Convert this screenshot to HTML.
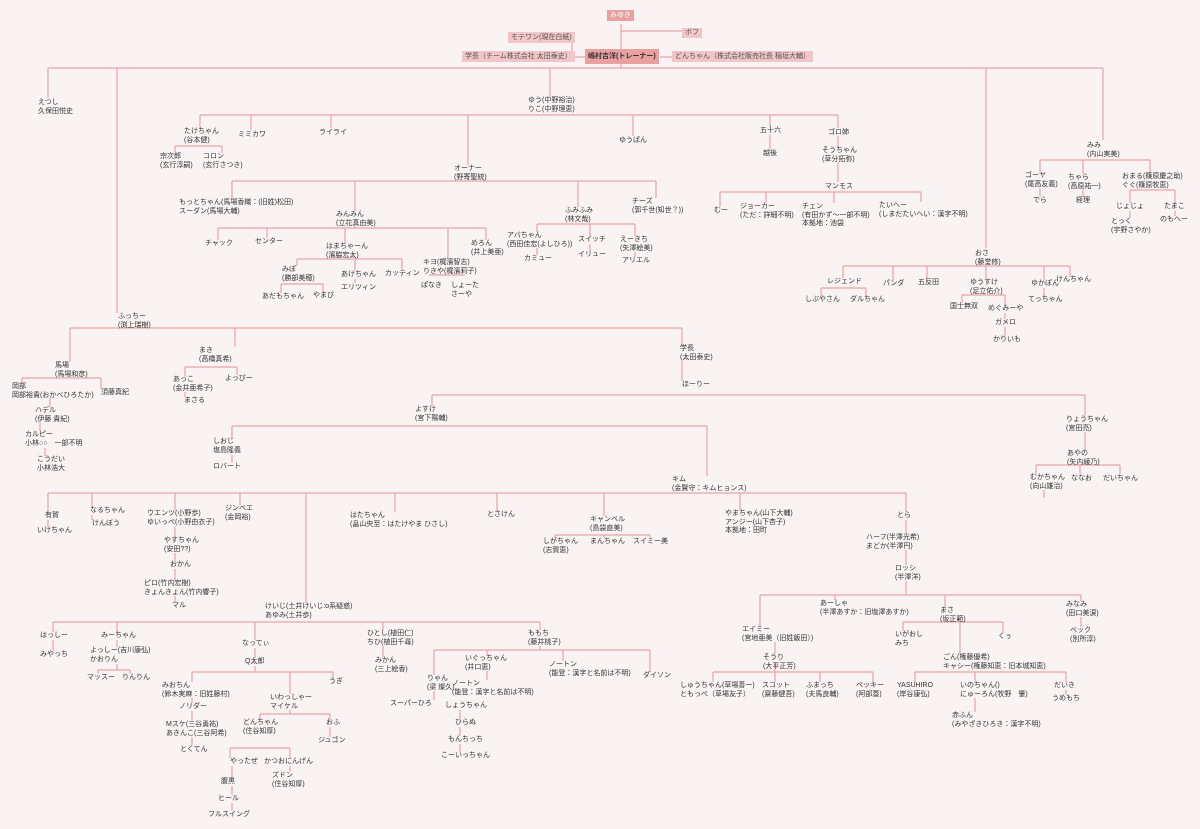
<!DOCTYPE html><html><head><meta charset="utf-8"><style>
body{margin:0;width:1200px;height:829px;background:#f9f3f4;position:relative;overflow:hidden;font-family:"Liberation Sans","Noto Sans CJK JP",sans-serif;}
.t{position:absolute;font-size:7px;line-height:8.5px;color:#333;white-space:nowrap;}
.b{position:absolute;font-size:7px;line-height:11px;color:#555;background:#f2c6c6;padding:0 3px;white-space:nowrap;}
svg{position:absolute;left:0;top:0}
</style></head><body>
<svg width="1200" height="829"><g stroke="#eaa3a3" stroke-width="1.2" fill="none">
<path d="M621 24V49M621 31H682M567 37H572V57M566 57H585M660 57H672M621 64V68M48 68H1103M48 68V98M117 68V313M550 68V97M986 68V248M1103 68V140"/>
<path d="M200 115H838M200 115V128M251 115V130M331 115V128M468 115V165M633 115V136M770 115V127M838 115V128M770 135V149M838 136V147M838 162V182"/>
<path d="M175 146H222M175 146V153M222 146V153"/>
<path d="M232 181H656M232 181V199M355 181V211M578 181V207M656 181V198M468 178V181"/>
<path d="M218 228H486M218 228V240M267 228V238M345 228V243M448 228V259M486 228V240M355 226V228"/>
<path d="M297 259H402M297 259V266M355 259V271M355 279V283M402 259V270M281 284H323M281 284V293M323 284V292M429 275H465"/>
<path d="M537 224H635M537 224V232M537 248V255M590 224V236M590 244V251M635 224V236M635 252V257"/>
<path d="M720 192H921M720 192V207M766 192V203M834 192V203M921 192V202"/>
<path d="M1040 160H1150M1040 160V172M1083 160V174M1150 160V173M1040 188V197M1083 188V197M1130 190H1175M1130 190V203M1130 211V218M1175 190V203M1175 211V216"/>
<path d="M843 266H1070M843 266V278M893 266V280M927 266V279M986 266V279M1044 266V280M1070 266V277M821 288H866M821 288V296M866 288V296M962 295H1005M962 295V303M1005 295V305M1005 313V319M1005 327V336M1044 288V296"/>
<path d="M70 328H682M70 328V362M235 328V347M682 328V345M682 361V381"/>
<path d="M22 378H101M22 378V383M101 378V389M50 398V407M40 423V431M45 448V456M185 367H237M185 367V376M185 392V397M237 367V375"/>
<path d="M432 395H1085M432 395V406M1085 395V416M1085 432V450M1036 465H1120M1036 465V474M1080 465V474M1120 465V474M1044 490V498"/>
<path d="M232 426H707M232 426V438M707 426V476M232 455V463"/>
<path d="M48 493H906M48 493V512M92 493V507M175 493V510M240 493V505M306 493V603M395 493V512M497 493V511M604 493V516M740 493V510M906 493V512M48 520V527M92 515V520M175 527V537M175 553V561M175 569V580M175 596V602"/>
<path d="M555 535H650M555 535V538M604 535V538M650 535V538M906 520V534M906 550V565M906 581V595"/>
<path d="M760 595H1081M760 595V626M835 595V600M945 595V607M1081 595V601M1081 617V627M775 642V654M713 672H873M713 672V682M775 672V682M820 672V682M873 672V682M775 662V672"/>
<path d="M903 622H1003M903 622V631M1003 622V633M960 622V654M915 672H1066M915 672V682M975 672V682M1066 672V682M975 698V712M1066 690V695"/>
<path d="M53 622H540M53 622V632M117 622V632M255 622V640M383 622V630M540 622V630M53 640V651M117 640V647M255 648V658M383 646V657M98 670H130M98 670V674M130 670V674M117 664V670"/>
<path d="M192 672H333M192 672V682M192 698V703M192 711V721M192 737V746M290 672V694M333 672V678M255 666V672M260 714H330M260 714V719M330 714V719M330 727V737M290 710V714M230 748H290M230 748V758M290 748V758M290 766V772M232 766V778M232 786V795M232 803V811"/>
<path d="M434 650H650M434 650V675M487 650V655M650 650V672M563 650V661M540 646V650M434 691V700M487 671V680M460 710V719M460 727V736M460 744V752"/>
</g></svg>
<div class="b" style="left:607px;top:10px;background:#e8a0a0;color:#fff;">みゆき</div>
<div class="b" style="left:682px;top:28px;line-height:10px;">ボフ</div>
<div class="b" style="left:508px;top:32px;">モテワン(現在白紙)</div>
<div class="b" style="left:462px;top:51px;">学長（チーム株式会社 太田泰史）</div>
<div class="b" style="left:585px;top:49px;line-height:15px;background:#e8a0a0;color:#333;font-weight:bold;">嶋村吉洋(トレーナー)</div>
<div class="b" style="left:672px;top:51px;">どんちゃん（株式会社販売社長 稲垣大輔）</div>

<div class="t" style="left:38px;top:99px">えつし<br>久保田悦史</div>
<div class="t" style="left:528px;top:97px">ゆう(中野裕治)<br>りこ(中野理恵)</div>
<div class="t" style="left:184px;top:128px">たけちゃん<br>(谷本健)</div>
<div class="t" style="left:238px;top:131px">ミミカワ</div>
<div class="t" style="left:319px;top:129px">ライライ</div>
<div class="t" style="left:160px;top:153px">宗次郎<br>(玄行淳嗣)</div>
<div class="t" style="left:203px;top:153px">コロン<br>(玄行さつき)</div>
<div class="t" style="left:454px;top:165px">オーナー<br>(野寄聖統)</div>
<div class="t" style="left:179px;top:199px">もっとちゃん(馬場香織：(旧姓)松田)<br>スーダン(馬場大輔)</div>
<div class="t" style="left:336px;top:211px">みんみん<br>(立花真由美)</div>
<div class="t" style="left:205px;top:240px">チャック</div>
<div class="t" style="left:255px;top:238px">センター</div>
<div class="t" style="left:326px;top:243px">はまちゃーん<br>(濱脇宏太)</div>
<div class="t" style="left:423px;top:259px">キヨ(梶濱智志)<br>りきや(梶濱莉子)</div>
<div class="t" style="left:471px;top:240px">めろん<br>(井上美亜)</div>
<div class="t" style="left:282px;top:266px">みぽ<br>(勝部美穂)</div>
<div class="t" style="left:341px;top:271px">あけちゃん</div>
<div class="t" style="left:341px;top:284px">エリツィン</div>
<div class="t" style="left:385px;top:270px">カッティン</div>
<div class="t" style="left:262px;top:293px">あだもちゃん</div>
<div class="t" style="left:313px;top:292px">やまぴ</div>
<div class="t" style="left:421px;top:282px">ぱなき</div>
<div class="t" style="left:451px;top:282px">しょーた<br>さーや</div>
<div class="t" style="left:565px;top:207px">ふみふみ<br>(林文哉)</div>
<div class="t" style="left:507px;top:232px">アバちゃん<br>(西田佳宏(よしひろ))</div>
<div class="t" style="left:524px;top:255px">カミュー</div>
<div class="t" style="left:578px;top:236px">スイッチ</div>
<div class="t" style="left:578px;top:251px">イリュー</div>
<div class="t" style="left:620px;top:236px">えーきち<br>(矢澤絵美)</div>
<div class="t" style="left:622px;top:257px">アリエル</div>
<div class="t" style="left:632px;top:198px">チーズ<br>(郭千世(知世？))</div>
<div class="t" style="left:619px;top:137px">ゆうぱん</div>
<div class="t" style="left:760px;top:127px">五十六</div>
<div class="t" style="left:763px;top:150px">越後</div>
<div class="t" style="left:828px;top:129px">ゴロ姉</div>
<div class="t" style="left:822px;top:147px">そうちゃん<br>(草分拓弥)</div>
<div class="t" style="left:825px;top:183px">マンモス</div>
<div class="t" style="left:714px;top:207px">むー</div>
<div class="t" style="left:740px;top:203px">ジョーカー<br>(ただ：詳細不明)</div>
<div class="t" style="left:802px;top:203px">チェン<br>(有田かず～一部不明)<br>本拠地：池袋</div>
<div class="t" style="left:879px;top:202px">たいへー<br>(しまだたいへい：漢字不明)</div>
<div class="t" style="left:1087px;top:142px">みみ<br>(内山実美)</div>
<div class="t" style="left:1025px;top:172px">ゴーヤ<br>(尾高友義)</div>
<div class="t" style="left:1033px;top:197px">でら</div>
<div class="t" style="left:1068px;top:174px">ちゃら<br>(高原祐一)</div>
<div class="t" style="left:1076px;top:197px">経理</div>
<div class="t" style="left:1122px;top:173px">おまる(篠原慶之助)<br>ぐぐ(篠原牧恵)</div>
<div class="t" style="left:1116px;top:203px">じょじょ</div>
<div class="t" style="left:1111px;top:218px">とっく<br>(宇野さやか)</div>
<div class="t" style="left:1164px;top:203px">たまこ</div>
<div class="t" style="left:1160px;top:216px">のもへー</div>
<div class="t" style="left:975px;top:250px">おさ<br>(藤堂修)</div>
<div class="t" style="left:827px;top:278px">レジェンド</div>
<div class="t" style="left:805px;top:296px">しぶやさん</div>
<div class="t" style="left:850px;top:296px">ダルちゃん</div>
<div class="t" style="left:883px;top:280px">パンダ</div>
<div class="t" style="left:918px;top:279px">五反田</div>
<div class="t" style="left:970px;top:279px">ゆうすけ<br>(足立佑介)</div>
<div class="t" style="left:950px;top:303px">国士無双</div>
<div class="t" style="left:988px;top:305px">めぐみーや</div>
<div class="t" style="left:995px;top:319px">ガメロ</div>
<div class="t" style="left:993px;top:336px">かりいも</div>
<div class="t" style="left:1031px;top:280px">ゆかぽん</div>
<div class="t" style="left:1028px;top:296px">てっちゃん</div>
<div class="t" style="left:1056px;top:276px">けんちゃん</div>

<div class="t" style="left:118px;top:313px">ふっちー<br>(渕上瑞樹)</div>
<div class="t" style="left:55px;top:362px">馬場<br>(馬場和彦)</div>
<div class="t" style="left:12px;top:383px">岡部<br>岡部裕貴(おかべひろたか)</div>
<div class="t" style="left:101px;top:389px">須藤真紀</div>
<div class="t" style="left:35px;top:407px">ハデル<br>(伊藤 貴紀)</div>
<div class="t" style="left:25px;top:431px">カルピー<br>小林○○　一部不明</div>
<div class="t" style="left:37px;top:456px">こうだい<br>小林浩大</div>
<div class="t" style="left:199px;top:347px">まき<br>(高橋真希)</div>
<div class="t" style="left:173px;top:376px">あっこ<br>(金井亜希子)</div>
<div class="t" style="left:184px;top:397px">まさる</div>
<div class="t" style="left:225px;top:375px">よっぴー</div>
<div class="t" style="left:680px;top:345px">学長<br>(太田泰史)</div>
<div class="t" style="left:682px;top:381px">ほーりー</div>
<div class="t" style="left:415px;top:406px">よすけ<br>(宮下陽輔)</div>
<div class="t" style="left:213px;top:438px">しおじ<br>塩島隆義</div>
<div class="t" style="left:213px;top:463px">ロバート</div>
<div class="t" style="left:672px;top:476px">キム<br>(金賢守：キムヒョンス)</div>
<div class="t" style="left:1066px;top:416px">りょうちゃん<br>(宮田亮)</div>
<div class="t" style="left:1067px;top:450px">あやの<br>(矢内綾乃)</div>
<div class="t" style="left:1030px;top:474px">むかちゃん<br>(向山雄治)</div>
<div class="t" style="left:1071px;top:475px">ななお</div>
<div class="t" style="left:1103px;top:475px">だいちゃん</div>

<div class="t" style="left:45px;top:512px">有賀</div>
<div class="t" style="left:37px;top:527px">いけちゃん</div>
<div class="t" style="left:90px;top:507px">なるちゃん</div>
<div class="t" style="left:92px;top:520px">けんぼう</div>
<div class="t" style="left:147px;top:510px">ウエンツ(小野歩)<br>ゆいっぺ(小野由衣子)</div>
<div class="t" style="left:225px;top:505px">ジンベエ<br>(金岡裕)</div>
<div class="t" style="left:164px;top:537px">やすちゃん<br>(安田??)</div>
<div class="t" style="left:170px;top:561px">おかん</div>
<div class="t" style="left:144px;top:580px">ピロ(竹内宏樹)<br>きょんきょん(竹内響子)</div>
<div class="t" style="left:172px;top:602px">マル</div>
<div class="t" style="left:350px;top:512px">はたちゃん<br>(畠山央至：はたけやま ひさし)</div>
<div class="t" style="left:487px;top:511px">とさけん</div>
<div class="t" style="left:590px;top:516px">キャンベル<br>(島袋直美)</div>
<div class="t" style="left:543px;top:538px">しがちゃん<br>(志賀恵)</div>
<div class="t" style="left:590px;top:538px">まんちゃん</div>
<div class="t" style="left:633px;top:538px">スイミー美</div>
<div class="t" style="left:725px;top:510px">やまちゃん(山下大輔)<br>アンジー(山下杏子)<br>本拠地：田町</div>
<div class="t" style="left:897px;top:512px">とら</div>
<div class="t" style="left:866px;top:534px">ハーフ(半澤光希)<br>まどか(半澤円)</div>
<div class="t" style="left:895px;top:565px">ロッシ<br>(半澤洋)</div>
<div class="t" style="left:742px;top:626px">エイミー<br>(宮地亜美（旧姓飯田）)</div>
<div class="t" style="left:820px;top:600px">あーしゃ<br>(半澤あすか：旧塩澤あすか)</div>
<div class="t" style="left:940px;top:607px">まさ<br>(坂正範)</div>
<div class="t" style="left:1066px;top:601px">みなみ<br>(田口美涙)</div>
<div class="t" style="left:1070px;top:627px">ベック<br>(別所淳)</div>
<div class="t" style="left:763px;top:654px">そうり<br>(大平正芳)</div>
<div class="t" style="left:680px;top:682px">しゅうちゃん(草場善一)<br>ともっぺ（草場友子）</div>
<div class="t" style="left:762px;top:682px">スコット<br>(齋藤健吾)</div>
<div class="t" style="left:806px;top:682px">ふまっち<br>(夫馬良輔)</div>
<div class="t" style="left:856px;top:682px">ペッキー<br>(阿部蓋)</div>
<div class="t" style="left:895px;top:631px">いがおし<br>みち</div>
<div class="t" style="left:998px;top:633px">くぅ</div>
<div class="t" style="left:943px;top:654px">ごん(権藤優希)<br>キャシー(権藤知恵：旧本城知恵)</div>
<div class="t" style="left:897px;top:682px">YASUHIRO<br>(岸谷康弘)</div>
<div class="t" style="left:960px;top:682px">いのちゃん()<br>にゅーろん(牧野　肇)</div>
<div class="t" style="left:1054px;top:682px">だいき</div>
<div class="t" style="left:1052px;top:695px">うめもち</div>
<div class="t" style="left:952px;top:712px">赤ふん<br>(みやざきひろき：漢字不明)</div>

<div class="t" style="left:265px;top:603px">けいじ(土井けいじ:o系疑惑)<br>あゆみ(土井歩)</div>
<div class="t" style="left:40px;top:632px">はっしー</div>
<div class="t" style="left:40px;top:651px">みやっち</div>
<div class="t" style="left:101px;top:632px">みーちゃん</div>
<div class="t" style="left:90px;top:647px">よっしー(吉川康弘)<br>かおりん</div>
<div class="t" style="left:87px;top:674px">マッスー</div>
<div class="t" style="left:122px;top:674px">りんりん</div>
<div class="t" style="left:242px;top:640px">なってぃ</div>
<div class="t" style="left:245px;top:658px">Q太郎</div>
<div class="t" style="left:329px;top:678px">うぎ</div>
<div class="t" style="left:162px;top:682px">みおちん<br>(鈴木実麻：旧姓藤村)</div>
<div class="t" style="left:179px;top:703px">ノリダー</div>
<div class="t" style="left:166px;top:721px">Mスケ(三谷勇祐)<br>あきんこ(三谷阿希)</div>
<div class="t" style="left:180px;top:746px">とくてん</div>
<div class="t" style="left:270px;top:694px">いわっしゃー<br>マイケル</div>
<div class="t" style="left:243px;top:719px">どんちゃん<br>(住谷知厚)</div>
<div class="t" style="left:326px;top:719px">おふ</div>
<div class="t" style="left:318px;top:737px">ジュゴン</div>
<div class="t" style="left:230px;top:758px">やったぜ</div>
<div class="t" style="left:264px;top:758px">かつおにんげん</div>
<div class="t" style="left:272px;top:772px">ズドン<br>(住谷知厚)</div>
<div class="t" style="left:221px;top:778px">腹黒</div>
<div class="t" style="left:218px;top:795px">ヒール</div>
<div class="t" style="left:208px;top:811px">フルスイング</div>
<div class="t" style="left:367px;top:630px">ひとし(植田仁)<br>ちひ(植田千尋)</div>
<div class="t" style="left:375px;top:657px">みかん<br>(三上絵香)</div>
<div class="t" style="left:528px;top:630px">ももち<br>(藤井桃子)</div>
<div class="t" style="left:427px;top:675px">りゃん<br>(梁 燦久)</div>
<div class="t" style="left:390px;top:700px">スーパーひろ</div>
<div class="t" style="left:465px;top:655px">いぐっちゃん<br>(井口恵)</div>
<div class="t" style="left:452px;top:680px">ノートン<br>(能登：漢字と名前は不明)</div>
<div class="t" style="left:549px;top:661px">ノートン<br>(能登：漢字と名前は不明)</div>
<div class="t" style="left:643px;top:672px">ダイソン</div>
<div class="t" style="left:445px;top:702px">しょうちゃん</div>
<div class="t" style="left:455px;top:719px">ひらぬ</div>
<div class="t" style="left:448px;top:736px">もんちっち</div>
<div class="t" style="left:441px;top:752px">こーいっちゃん</div>
</body></html>
